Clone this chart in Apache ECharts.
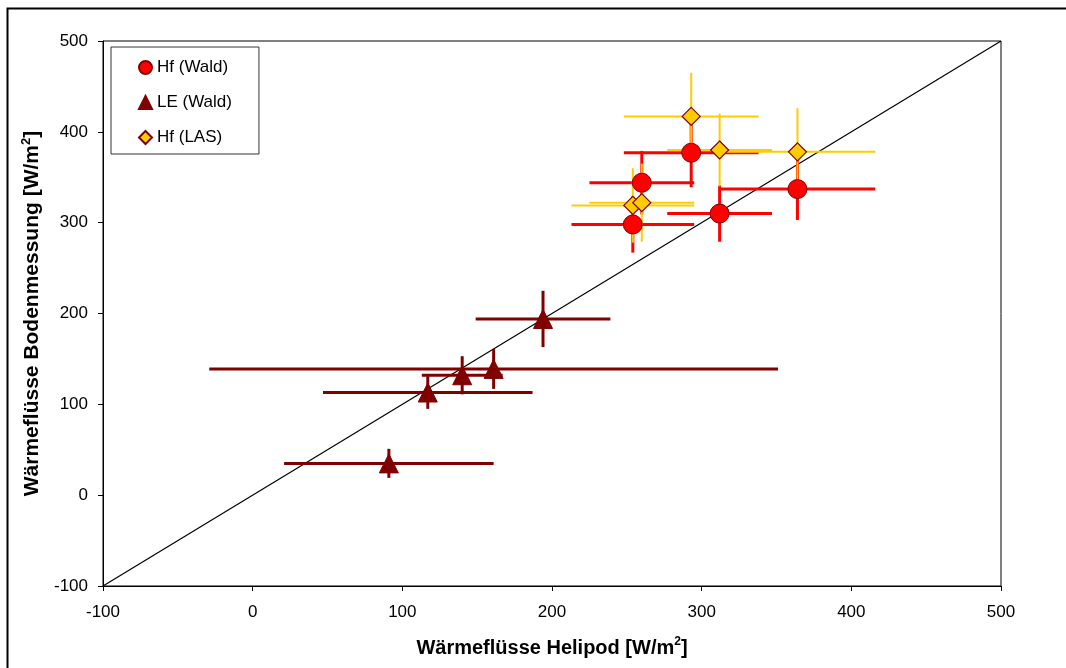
<!DOCTYPE html>
<html>
<head>
<meta charset="utf-8">
<script src="https://cdn.jsdelivr.net/npm/echarts@6/dist/echarts.min.js"></script>
<style>html,body{margin:0;padding:0;background:#fff}#c{width:1066px;height:668px}</style>
</head>
<body>
<div id="c"></div>
<script>
// Hf (Wald)
var hfWaldX = [293, 260, 254, 312, 364];
var hfWaldY = [377, 344, 298, 310, 337];
var hfWaldXErr = [45, 35, 41, 35, 52];
var hfWaldYErr = [38, 35, 31, 31, 34];
// LE (Wald)
var leWaldX = [194, 161, 140, 117, 91];
var leWaldY = [194, 139, 132, 113, 35];
var leWaldXErr = [45, 190, 27, 70, 70];
var leWaldYErr = [31, 22, 21, 18, 16];
// Hf (LAS)
var hfLasX = [293, 312, 364, 254, 260];
var hfLasY = [417, 380, 378, 319, 322];
var hfLasXErr = [45, 35, 52, 41, 35];
var hfLasYErr = [48, 40, 48, 41, 43];
// 1:1 line
var diagX = [-100, 500];
var diagY = [-100, 500];
var axisTicks = [-100, 0, 100, 200, 300, 400, 500];

function pts(xs, ys) { return xs.map(function (x, i) { return [x, ys[i]]; }); }
function errs(xs, ys, ex, ey) { return xs.map(function (x, i) { return [x, ys[i], ex[i], ey[i]]; }); }

function errSeries(name, data, color, width) {
  return {
    type: 'custom', name: name, silent: true, z: 2,
    data: data,
    renderItem: function (params, api) {
      var x = api.value(0), y = api.value(1), ex = api.value(2), ey = api.value(3);
      var l = api.coord([x - ex, y]), r = api.coord([x + ex, y]);
      var t = api.coord([x, y + ey]), b = api.coord([x, y - ey]);
      var st = { stroke: color, lineWidth: width };
      return { type: 'group', children: [
        { type: 'line', shape: { x1: l[0], y1: l[1], x2: r[0], y2: r[1] }, style: st },
        { type: 'line', shape: { x1: t[0], y1: t[1], x2: b[0], y2: b[1] }, style: st }
      ] };
    }
  };
}

var font = 'Liberation Sans, Arial, sans-serif';
var chart = echarts.init(document.getElementById('c'), null, { renderer: 'canvas' });
chart.setOption({
  animation: false,
  backgroundColor: '#fff',
  textStyle: { fontFamily: font },
  graphic: [{ type: 'rect', left: 5, top: 6, shape: { width: 1100, height: 700 }, style: { fill: 'none', stroke: '#000', lineWidth: 2 }, silent: true }],
  grid: { left: 103, top: 41, right: 65, bottom: 82, show: true, borderColor: '#000', borderWidth: 1, backgroundColor: 'transparent' },
  legend: {
    orient: 'vertical', left: 111, top: 47,
    padding: [12, 27, 8, 27], itemGap: 18,
    itemWidth: 13, itemHeight: 13,
    borderColor: '#333', borderWidth: 1, backgroundColor: '#fff',
    textStyle: { fontFamily: font, fontSize: 17, color: '#000' },
    data: ['Hf (Wald)', 'LE (Wald)', 'Hf (LAS)']
  },
  xAxis: {
    type: 'value', min: -100, max: 500, interval: 100,
    axisLine: { onZero: false, lineStyle: { color: '#000', width: 1 } },
    axisTick: { show: true, length: 5, lineStyle: { color: '#000' } },
    splitLine: { show: false },
    axisLabel: { fontFamily: font, fontSize: 17, color: '#000', margin: 18 },
    name: '{t|Wärmeflüsse Helipod [W/m}{s|2}{t|]}',
    nameLocation: 'middle', nameGap: 50,
    nameTextStyle: { rich: {
      t: { fontFamily: font, fontSize: 20, fontWeight: 'bold', color: '#000', lineHeight: 24 },
      s: { fontFamily: font, fontSize: 12, fontWeight: 'bold', color: '#000', verticalAlign: 'top', lineHeight: 24, padding: [0, 0, 10, 0] }
    } }
  },
  yAxis: {
    type: 'value', min: -100, max: 500, interval: 100,
    axisLine: { onZero: false, lineStyle: { color: '#000', width: 1 } },
    axisTick: { show: true, length: 5, lineStyle: { color: '#000' } },
    splitLine: { show: false },
    axisLabel: { fontFamily: font, fontSize: 17, color: '#000', margin: 15 },
    name: '{t|Wärmeflüsse Bodenmessung [W/m}{s|2}{t|]}',
    nameLocation: 'middle', nameGap: 56, nameRotate: 90,
    nameTextStyle: { rich: {
      t: { fontFamily: font, fontSize: 21, fontWeight: 'bold', color: '#000', lineHeight: 25 },
      s: { fontFamily: font, fontSize: 13, fontWeight: 'bold', color: '#000', verticalAlign: 'top', lineHeight: 25, padding: [0, 0, 10, 0] }
    } }
  },
  series: [
    { type: 'line', name: '1:1', data: pts(diagX, diagY), showSymbol: false, silent: true, z: 1,
      lineStyle: { color: '#000', width: 1.2 } },
    errSeries('errWald', errs(hfWaldX, hfWaldY, hfWaldXErr, hfWaldYErr), '#FF0000', 3),
    errSeries('errLE', errs(leWaldX, leWaldY, leWaldXErr, leWaldYErr), '#800000', 3),
    errSeries('errLAS', errs(hfLasX, hfLasY, hfLasXErr, hfLasYErr), '#FFCC00', 2),
    { type: 'scatter', name: 'Hf (Wald)', data: pts(hfWaldX, hfWaldY), symbol: 'circle', symbolSize: 19, z: 5,
      itemStyle: { color: '#FF0000', borderColor: '#800000', borderWidth: 1, opacity: 1 } },
    { type: 'scatter', name: 'LE (Wald)', data: pts(leWaldX, leWaldY), symbol: 'triangle', symbolSize: 19, z: 5,
      itemStyle: { color: '#800000', borderColor: '#800000', borderWidth: 1, opacity: 1 } },
    { type: 'scatter', name: 'Hf (LAS)', data: pts(hfLasX, hfLasY), symbol: 'diamond', symbolSize: 18, z: 6,
      itemStyle: { color: '#FFCC00', borderColor: '#800000', borderWidth: 1.2, opacity: 1 } }
  ]
});
</script>
</body>
</html>
